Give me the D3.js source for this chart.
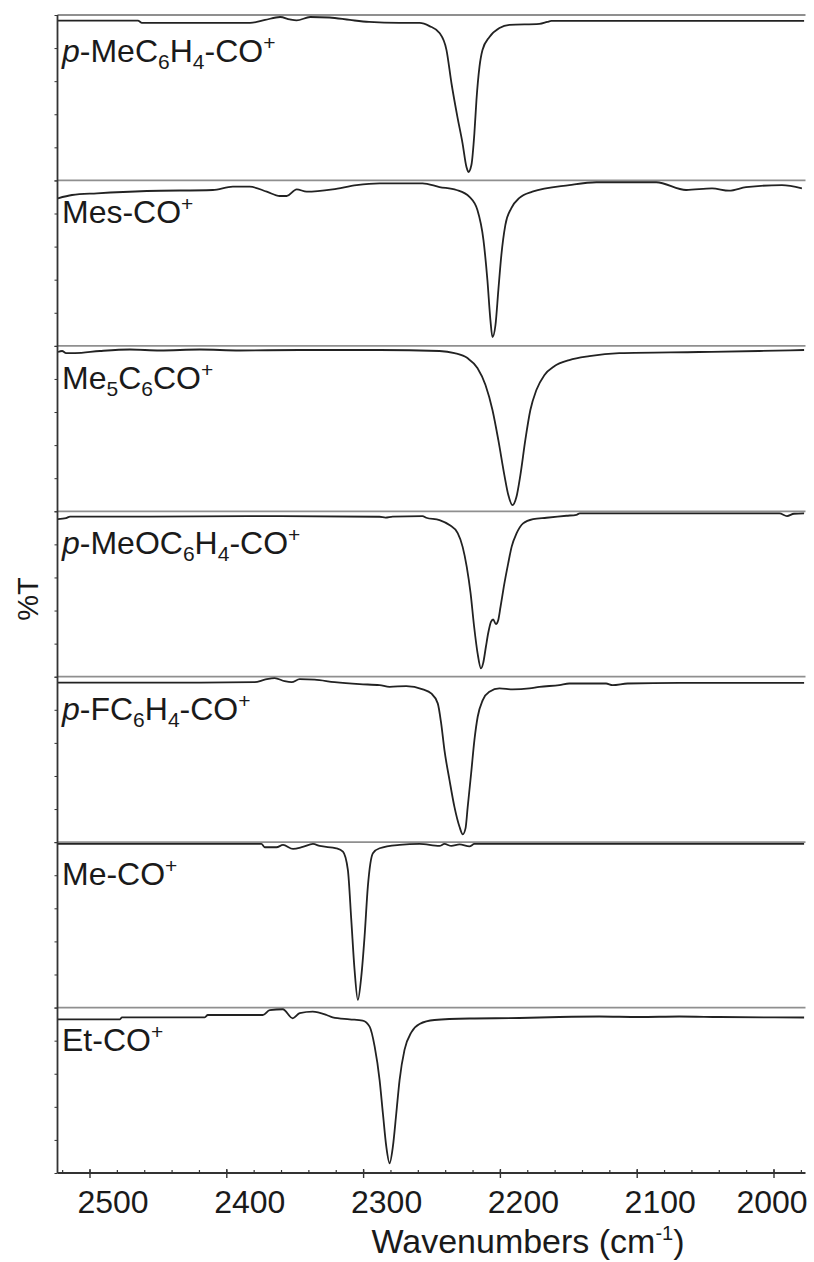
<!DOCTYPE html>
<html><head><meta charset="utf-8">
<script src="https://cdn.jsdelivr.net/npm/d3@7/dist/d3.min.js"></script>
<style>
body{margin:0;background:#fff;}
svg text{font-family:"Liberation Sans",Arial,sans-serif;fill:#1a1a1a;}
</style></head>
<body><svg id="c" width="814" height="1262"></svg>
<script>
// ---- data: [wavenumber (cm-1), %T (relative within each panel)] ----
const pMeC6H4 = [[2523.4,96.6],[2465,96.6],[2462,95.2],[2383,95.2],[2372,97],[2361,98.8],[2354,97.3],[2349,96.7],[2339,98.8],[2325,98.5],[2310,97],[2296,95.8],[2274,95.2],[2259,95.2],[2251.8,93.3],[2244.5,89.1],[2239.4,78.8],[2235.8,58.9],[2231.4,38.3],[2227.7,22.6],[2224.8,8.1],[2223.4,5.1],[2221.2,9.3],[2219.0,28.7],[2217.5,48.6],[2215.3,68.6],[2213.1,78.8],[2208.0,86.7],[2200.7,92.1],[2193.4,94],[2171.5,94.6],[2165.7,95.8],[2162.8,96.4],[1978,96.4]];
const mesCO = [[2523.4,89.2],[2513.1,91.2],[2494.9,92.2],[2458.4,93.6],[2410.2,94.2],[2395.6,96.2],[2383.2,96.2],[2370.8,93.2],[2361.3,90.6],[2356.2,90.6],[2348.9,94.6],[2341.6,93.2],[2322.6,94.6],[2305.1,97.2],[2288.3,98.2],[2256.9,98.2],[2244.5,96],[2232.1,94.2],[2222.6,90],[2216.8,82.1],[2212.4,64],[2209.5,39.8],[2207.3,15.6],[2205.8,5.3],[2203.6,12.6],[2201.5,33.7],[2199.3,54.9],[2196.4,73],[2192.0,83.3],[2186.1,89.4],[2176.6,93.2],[2149.6,97.2],[2129.9,98.9],[2086.1,98.9],[2064.2,94.2],[2045.3,95.2],[2032.8,93.8],[2020.4,95.9],[1994.2,97.2],[1979.6,95.2]];
const me5C6CO = [[2523.4,96.3],[2520.4,96.9],[2517.5,95.6],[2511,95.6],[2492.7,96.9],[2470.8,97.8],[2448.9,97.2],[2419.7,97.8],[2390.5,97.2],[2346.7,97.5],[2288.3,97.5],[2244.5,96.9],[2233.6,95.6],[2224.1,92.6],[2216.8,86.6],[2210.9,76.3],[2205.8,61.2],[2201.5,43],[2197.1,21.9],[2194.2,9.8],[2191.2,3.7],[2188.3,8.6],[2185.4,21.9],[2181.8,43],[2178.1,61.2],[2173.7,73.3],[2167.9,82.3],[2160.6,87.7],[2149.6,91.4],[2135,93.8],[2113.1,95.6],[2054.7,96.3],[2010.9,96.9],[1978,97.5]];
const pMeOC6H4 = [[2523.4,95.3],[2517.5,95.9],[2514.6,96.8],[2456.2,96.8],[2383.2,97.1],[2288.3,96.7],[2284,96.2],[2278.8,96.8],[2256.9,97.1],[2254.2,96.1],[2244.5,94.7],[2237.2,91.7],[2231.2,86.8],[2227.6,78.5],[2224.6,66.4],[2221.8,50.5],[2219.2,30.2],[2216.7,14.3],[2214.2,5],[2212.6,8.2],[2210.6,18.1],[2208.9,26.4],[2206.9,33.2],[2205.3,34.6],[2203.3,31.8],[2201.6,34.2],[2199.9,42.3],[2197.5,54.4],[2194.3,68.5],[2191.8,78.5],[2188.2,86.6],[2183.4,92.7],[2176.1,95.3],[2166.3,96.1],[2151.7,97.3],[2144.4,97.9],[2142,98.7],[1996,98.7],[1990.5,97.1],[1985.4,98.5],[1978,98.7]];
const pFC6H4 = [[2523.4,96.4],[2492.7,96.4],[2419.7,96.4],[2379.6,96.7],[2372.3,98.2],[2365,99.2],[2357.7,97.3],[2352.6,96.7],[2346.7,98.5],[2335.8,98.2],[2321.2,96.7],[2302.9,95.5],[2288.3,94.9],[2281,93.9],[2268.8,94.3],[2256.7,92.3],[2250.6,89.9],[2245.8,83.9],[2243.3,71.8],[2240.9,55.6],[2237.2,37.5],[2233.6,21.3],[2229.9,9.3],[2227.5,4.7],[2225.5,8.3],[2223.9,21.3],[2221.4,41.5],[2219,61.7],[2216.6,75.8],[2212.9,85.9],[2208,90.9],[2200.7,92.9],[2191,92.3],[2178.8,92.9],[2171.5,93.9],[2156.9,94.9],[2149.6,95.9],[2122.8,95.9],[2118,94.9],[2107,95.9],[2069.3,96.3],[1978,96.3]];
const meCO = [[2523.4,98.9],[2374.7,98.9],[2372.3,96.9],[2363.7,96.9],[2358.9,98.3],[2351.6,95.9],[2344.5,97.1],[2337,98.9],[2332.1,97.7],[2319.9,96.3],[2315.1,94.3],[2311.5,83.2],[2309,53],[2306.6,22.7],[2304.2,4.6],[2301.7,18.7],[2299.3,42.9],[2296.9,73.1],[2293.2,93.3],[2288.3,96.3],[2273.7,98.3],[2259.1,98.9],[2244.5,97.7],[2240.9,98.9],[2235.8,97.7],[2229.9,98.6],[2222.6,97.4],[2219,98.9],[1978,98.9]];
const etCO = [[2523.4,92.9],[2478.1,92.9],[2476.6,94.1],[2416.1,94.1],[2413.9,95.5],[2373.7,95.5],[2368.6,98.5],[2359.1,99],[2351.8,93.5],[2346.7,96.6],[2337.2,97.5],[2327,95.5],[2322.6,94.1],[2310.2,92.9],[2300.7,92.1],[2295.6,88.5],[2291.9,76.4],[2288.3,56.2],[2285.9,36.1],[2283.4,15.9],[2281,5.9],[2278.6,15.9],[2276.1,36.1],[2273.7,56.2],[2270.1,74.4],[2265,85.2],[2259.1,90.1],[2248.2,92.5],[2222.6,93.4],[2186.1,93.7],[2156.9,94.3],[2127.7,94.6],[2098.5,94.3],[2069.3,94.6],[2040.1,94.3],[1978,94]];

const series = [pMeC6H4, mesCO, me5C6CO, pMeOC6H4, pFC6H4, meCO, etCO];
// label segments: [kind, text]
const labels = [
  [["i","p"],["n","-MeC"],["sub","6"],["n","H"],["sub","4"],["n","-CO"],["sup","+"]],
  [["n","Mes-CO"],["sup","+"]],
  [["n","Me"],["sub","5"],["n","C"],["sub","6"],["n","CO"],["sup","+"]],
  [["i","p"],["n","-MeOC"],["sub","6"],["n","H"],["sub","4"],["n","-CO"],["sup","+"]],
  [["i","p"],["n","-FC"],["sub","6"],["n","H"],["sub","4"],["n","-CO"],["sup","+"]],
  [["n","Me-CO"],["sup","+"]],
  [["n","Et-CO"],["sup","+"]]
];
const xMajorTicks = [2500, 2400, 2300, 2200, 2100, 2000];
const xTickLabels = ["2500", "2400", "2300", "2200", "2100", "2000"];
const xMinorTicks = d3.range(2520, 1979, -20);
const yTicks = [0, 20, 40, 60, 80, 100];
const xTitle = "Wavenumbers (cm";
const yTitle = "%T";

// ---- layout ----
const svg = d3.select("#c");
const pLeft = 57.5, pRight = 805.5, pTop = 15, pBottom = 1173;
const x = d3.scaleLinear().domain([2500, 2000]).range([90, 774]);
const nP = series.length;
const band = d3.scaleBand().domain(d3.range(nP)).range([pTop, pBottom]).paddingInner(0);
const ph = band.bandwidth();

const g = svg.append("g");
series.forEach((data, i) => {
  const y0 = band(i);
  const y = d3.scaleLinear().domain([0, 100]).range([y0 + ph, y0]);
  // separator
  g.append("line").attr("x1", pLeft).attr("x2", pRight).attr("y1", y0).attr("y2", y0)
    .attr("stroke", "#8f8f8f").attr("stroke-width", 1.8);
  // small left ticks
  const ax = g.append("g").attr("transform", `translate(${pLeft},0)`)
    .call(d3.axisLeft(y).tickValues(yTicks).tickSize(3).tickFormat(""));
  ax.select(".domain").remove();
  ax.selectAll("line").attr("stroke", "#333").attr("stroke-width", 1);
  // spectrum
  const line = d3.line().x(d => x(d[0])).y(d => y(d[1])).curve(d3.curveMonotoneX);
  g.append("path").datum(data).attr("d", line).attr("fill", "none")
    .attr("stroke", "#222").attr("stroke-width", 1.8).attr("stroke-linejoin", "round");
  // label
  const t = g.append("text").attr("x", 62).attr("y", y0 + (i === 0 ? 47 : 43)).attr("font-size", 32);
  let shift = 0;
  labels[i].forEach(([k, s]) => {
    const sp = t.append("tspan").text(s);
    let target = 0;
    if (k === "sub") { sp.attr("font-size", 21); target = 7; }
    else if (k === "sup") { sp.attr("font-size", 21); target = -12; }
    else if (k === "i") { sp.attr("font-style", "italic"); }
    sp.attr("dy", target - shift);
    shift = target;
  });
});

// axes frame
svg.append("line").attr("x1", pLeft).attr("x2", pLeft).attr("y1", pTop).attr("y2", pBottom)
  .attr("stroke", "#333").attr("stroke-width", 1.8);
const xa = svg.append("g").attr("transform", `translate(0,${pBottom})`);
xa.append("line").attr("x1", pLeft).attr("x2", pRight).attr("stroke", "#333").attr("stroke-width", 1.8);
xa.selectAll(".minor").data(xMinorTicks).join("line")
  .attr("x1", d => x(d)).attr("x2", d => x(d)).attr("y1", -3).attr("y2", 0)
  .attr("stroke", "#333").attr("stroke-width", 1.2);
xa.selectAll(".major").data(xMajorTicks).join("line")
  .attr("x1", d => x(d)).attr("x2", d => x(d)).attr("y1", -4).attr("y2", 5)
  .attr("stroke", "#333").attr("stroke-width", 1.4);
xa.selectAll(".lab").data(xMajorTicks).join("text")
  .attr("x", d => Math.min(x(d) + 23, 772))
  .attr("y", 40).attr("text-anchor", "middle").attr("font-size", 32)
  .text((d, i) => xTickLabels[i]);

const tt = svg.append("text").attr("x", 528).attr("y", 1253).attr("text-anchor", "middle").attr("font-size", 34);
tt.append("tspan").text(xTitle);
tt.append("tspan").attr("font-size", 20).attr("dy", -13).text("-1");
tt.append("tspan").attr("dy", 13).text(")");

svg.append("text").attr("transform", "translate(38,599) rotate(-90)")
  .attr("text-anchor", "middle").attr("font-size", 29).text(yTitle);
</script></body></html>
